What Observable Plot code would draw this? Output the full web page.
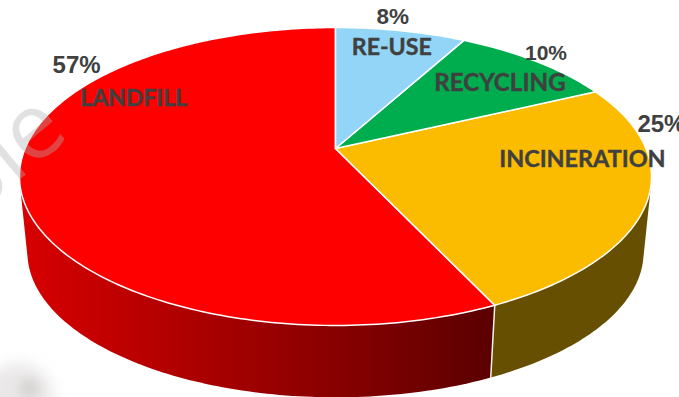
<!DOCTYPE html>
<html>
<head>
<meta charset="utf-8">
<script src="https://cdn.jsdelivr.net/npm/d3@7"></script>
<script src="https://cdn.jsdelivr.net/npm/@observablehq/plot@0.6"></script>
<style>
  html, body { margin: 0; padding: 0; background: #fff; overflow: hidden; }
  svg { display: block; }
</style>
</head>
<body>
<div id="chart"></div>
<script>
// Waste treatment shares, clockwise from twelve o'clock.
const categories = ["RE-USE", "RECYCLING", "INCINERATION", "LANDFILL"];
const shares = [8, 10, 25, 57];
const topColors = ["#92d5f6", "#00ad4e", "#fbbc00", "#ff0000"];

// Label offsets from the middle of each slice's rim, and the size of each label.
const shareOffsets = [[-8, -14], [10, -8], [14, -76], [57, -116]];
const nameOffsets = [[-9, 17], [-36, 22], [-65, -41], [114, -83]];
const shareSizes = [22.5, 21, 24, 24];
const nameSizes = [23.2, 24.2, 23.4, 23];

const width = 679;
const height = 397;

// Perspective view of the disc: a circle on a tilted plane.
const tilt = 0.188;
const topFace = {cx: 335, cy: 148, a: 310.4, b: 143.7};
const bottomFace = {cx: 335, cy: 224.4, a: 302.6, b: 140};

function project(fraction, face, radius = 1) {
  const t = fraction * 2 * Math.PI;
  const sx = Math.sin(t) * radius;
  const sy = Math.cos(t) * radius;
  const w = 1 + tilt * sy;
  return {x: face.cx + face.a * sx / w, y: face.cy - face.b * sy / w};
}

const total = d3.sum(shares);
const cumulative = d3.cumsum(shares);
const slices = categories.map((name, i) => ({
  name,
  share: shares[i],
  color: topColors[i],
  start: (cumulative[i] - shares[i]) / total,
  end: cumulative[i] / total
}));

function rimFractions(s) {
  const n = Math.max(2, Math.ceil((s.end - s.start) * 360));
  return d3.range(n + 1).map(k => s.start + (s.end - s.start) * k / n);
}

const faceOutline = s => [
  project(0, topFace, 0),
  ...rimFractions(s).map(f => project(f, topFace))
];

// The wall is the hull of both rims; the top face covers its hidden part.
const wallOutline = s => {
  const pts = rimFractions(s).flatMap(f => {
    const a = project(f, topFace);
    const b = project(f, bottomFace);
    return [[a.x, a.y], [b.x, b.y]];
  });
  return d3.polygonHull(pts).map(([x, y]) => ({x, y}));
};

const incineration = slices[2];
const landfill = slices[3];

const labelRows = slices.flatMap((s, i) => {
  const rim = project((s.start + s.end) / 2, topFace);
  return [
    {text: `${s.share}%`, kind: "share", size: shareSizes[i], x: rim.x + shareOffsets[i][0], y: rim.y + shareOffsets[i][1]},
    {text: s.name, kind: "name", size: nameSizes[i], x: rim.x + nameOffsets[i][0], y: rim.y + nameOffsets[i][1]}
  ];
});

const wallGradient = () => {
  const defs = d3.create("svg:defs");
  const g = defs.append("linearGradient")
    .attr("id", "landfill-wall")
    .attr("gradientUnits", "userSpaceOnUse")
    .attr("x1", 19).attr("x2", 494).attr("y1", 0).attr("y2", 0);
  g.append("stop").attr("offset", 0).attr("stop-color", "#d80000");
  g.append("stop").attr("offset", 0.67).attr("stop-color", "#880000");
  g.append("stop").attr("offset", 1).attr("stop-color", "#5a0000");
  return defs.node();
};

const chart = Plot.plot({
  width,
  height,
  margin: 0,
  style: {background: "#fff", overflow: "hidden"},
  x: {axis: null, domain: [0, width], range: [0, width]},
  y: {axis: null, domain: [0, height], range: [0, height]},
  marks: [
    wallGradient,
    // Soft smudge in the lower corner.
    Plot.dot([{x: 18, y: 397}], {x: "x", y: "y", r: 34, fill: "#e9e7e7", imageFilter: "blur(8px)"}),
    Plot.dot([{x: 29, y: 388}], {x: "x", y: "y", r: 10, fill: "#d8d4d4", imageFilter: "blur(5px)"}),
    Plot.line(wallOutline(incineration), {x: "x", y: "y", fill: "#664f00", curve: "linear-closed"}),
    Plot.line(wallOutline(landfill), {x: "x", y: "y", fill: "url(#landfill-wall)", curve: "linear-closed"}),
    Plot.line([project(landfill.start, topFace), project(landfill.start, bottomFace)], {x: "x", y: "y", stroke: "#f4f4f0", strokeWidth: 1.5}),
    ...slices.slice().reverse().map(s =>
      Plot.line(faceOutline(s), {x: "x", y: "y", fill: s.color, stroke: "#fff", strokeWidth: 1.5, strokeLinejoin: "round", curve: "linear-closed"})
    ),
    // Faint diagonal lettering across the left edge.
    Plot.text([{t: "ple", x: 52, y: 113}], {x: "x", y: "y", text: "t", textAnchor: "end", rotate: -40, fontSize: 92, fontFamily: "Open Sans", fontWeight: 400, fill: "#afafaf", fillOpacity: 0.38}),
    Plot.text(labelRows.filter(d => d.kind === "share"), {x: "x", y: "y", text: "text", fontSize: "size", fontWeight: 700, fontFamily: "Liberation Sans", fill: "#404040"}),
    Plot.text(labelRows.filter(d => d.kind === "name"), {x: "x", y: "y", text: "text", fontSize: "size", fontWeight: 700, fontFamily: "Lato", fill: "#404040", stroke: "#404040", strokeWidth: 0.4})
  ]
});
document.getElementById("chart").append(chart);
</script>
</body>
</html>
